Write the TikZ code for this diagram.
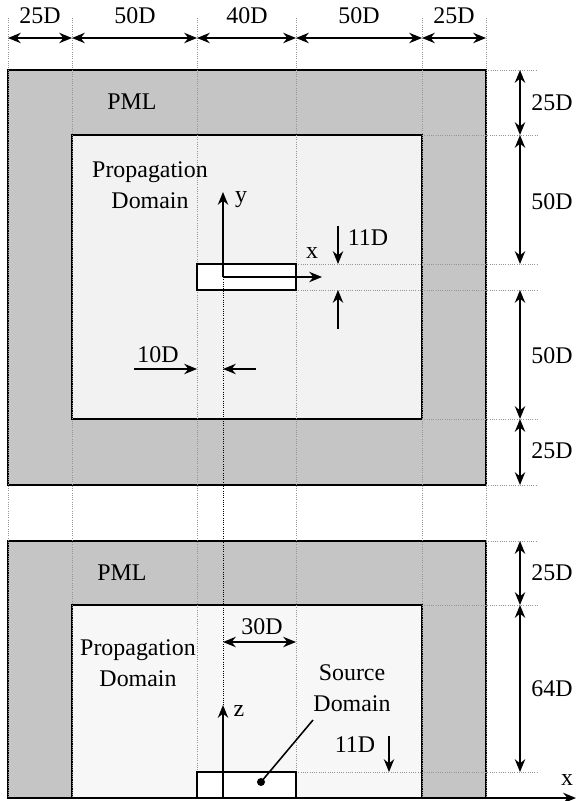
\documentclass[tikz,border=0pt]{standalone}
\usepackage{fontspec}
\setmainfont{Liberation Serif}
\usetikzlibrary{arrows.meta}
\definecolor{pmlgray}{RGB}{196,197,196}
\definecolor{domgray}{RGB}{242,242,242}
\definecolor{guidegray}{RGB}{150,150,150}
\tikzset{
  box/.style={line width=1.5pt},
  guide/.style={densely dotted, guidegray, line width=0.6pt},
  axisguide/.style={densely dotted, black, line width=0.6pt},
  dimarrow/.style={line width=1.1pt, {Stealth[length=3.2mm,width=2.6mm]}-{Stealth[length=3.2mm,width=2.6mm]}},
  onearrow/.style={line width=1.1pt, -{Stealth[length=3.2mm,width=2.6mm]}},
  lbl/.style={inner sep=0pt, font=\fontsize{17}{22}\selectfont, align=center}
}

\begin{document}
\begin{tikzpicture}[x=0.025cm, y=-0.025cm]
\useasboundingbox (0,0) rectangle (577,801);
\coordinate (outA) at (8,70);
\coordinate (outB) at (486,485);
\coordinate (inA) at (72,135);
\coordinate (inB) at (422,419);
\coordinate (srcA) at (197,264);
\coordinate (srcB) at (296,290);
\coordinate (outC) at (8,541);
\coordinate (outD) at (486,798);
\coordinate (inC) at (72,605);
\coordinate (inD) at (422,798);
\coordinate (srcC) at (197,772);
\coordinate (srcD) at (296,798);
\coordinate (orig) at (223,277);
\coordinate (origz) at (223,798);
\draw[box, fill=pmlgray] (outA) rectangle (outB);
\draw[box, fill=domgray] (inA) rectangle (inB);
\draw[box, fill=pmlgray] (outC) rectangle (outD);
\draw[box, fill=domgray!60!white] (inC) rectangle (inD);
\foreach \gx in {8,72,197,296,422,486}
  \draw[guide] (\gx,18) -- (\gx,798);
\foreach \gy in {70,485,541}
  \draw[guide] (486,\gy) -- (537,\gy);
\foreach \gy in {135,419,605}
  \draw[guide] (422,\gy) -- (537,\gy);
\foreach \gy in {264,290,772}
  \draw[guide] (296,\gy) -- (537,\gy);
\draw[box, fill=white] (srcA) rectangle (srcB);
\draw[box, fill=white] (srcC) rectangle (srcD);
\draw[axisguide] (orig) -- (223,707);
\coordinate (ytip) at (223,192);
\coordinate (xtip) at (322,277);
\coordinate (ztip) at (223,705);
\coordinate (xaxtip) at (576,798);
\draw[onearrow] (orig) -- (ytip);
\draw[onearrow] (orig) -- (xtip);
\draw[onearrow] (origz) -- (ztip);
\draw[line width=1.5pt, -{Stealth[length=3.2mm,width=2.6mm]}] (outD) -- (xaxtip);
\node[lbl] (w1) at (40,16) {25D};
\node[lbl] (w2) at (135,16) {50D};
\node[lbl] (w3) at (247,16) {40D};
\node[lbl] (w4) at (359,16) {50D};
\node[lbl] (w5) at (454,16) {25D};
\draw[dimarrow] (8,38) -- (72,38);
\draw[dimarrow] (72,38) -- (197,38);
\draw[dimarrow] (197,38) -- (296,38);
\draw[dimarrow] (296,38) -- (422,38);
\draw[dimarrow] (422,38) -- (486,38);
\node[lbl] (h1) at (552,103) {25D};
\node[lbl] (h2) at (552,202) {50D};
\node[lbl] (h3) at (552,356) {50D};
\node[lbl] (h4) at (552,451) {25D};
\node[lbl] (h5) at (552,573) {25D};
\node[lbl] (h6) at (552,689) {64D};
\draw[dimarrow] (520,70) -- (520,135);
\draw[dimarrow] (520,135) -- (520,264);
\draw[dimarrow] (520,290) -- (520,419);
\draw[dimarrow] (520,419) -- (520,485);
\draw[dimarrow] (520,541) -- (520,605);
\draw[dimarrow] (520,605) -- (520,772);
\node[lbl] (pml1) at (132,102) {PML};
\node[lbl] (prop1) at (150,185) {Propagation\\Domain};
\node[lbl] (ylab) at (241,200) {y};
\node[lbl] (xlab) at (312,253) {x};
\node[lbl] (gap1) at (368,238) {11D};
\draw[onearrow] (338,226) -- (338,264);
\draw[onearrow] (338,329) -- (338,290);
\node[lbl] (off1) at (158,355) {10D};
\draw[onearrow] (134,369) -- (197,369);
\draw[onearrow] (256,369) -- (223,369);
\node[lbl] (pml2) at (122,573) {PML};
\node[lbl] (prop2) at (138,663) {Propagation\\Domain};
\node[lbl] (len2) at (262,627) {30D};
\draw[dimarrow] (223,642) -- (296,642);
\node[lbl] (zlab) at (239,711) {z};
\node[lbl] (srcl) at (352,688) {Source\\Domain};
\coordinate (srcdot) at (261,782);
\fill (srcdot) circle (4);
\draw[line width=1.1pt] (313,720) -- (srcdot);
\node[lbl] (gap2) at (355,745) {11D};
\draw[onearrow] (389,736) -- (389,772);
\node[lbl] (xlab2) at (567,780) {x};
\end{tikzpicture}
\end{document}
